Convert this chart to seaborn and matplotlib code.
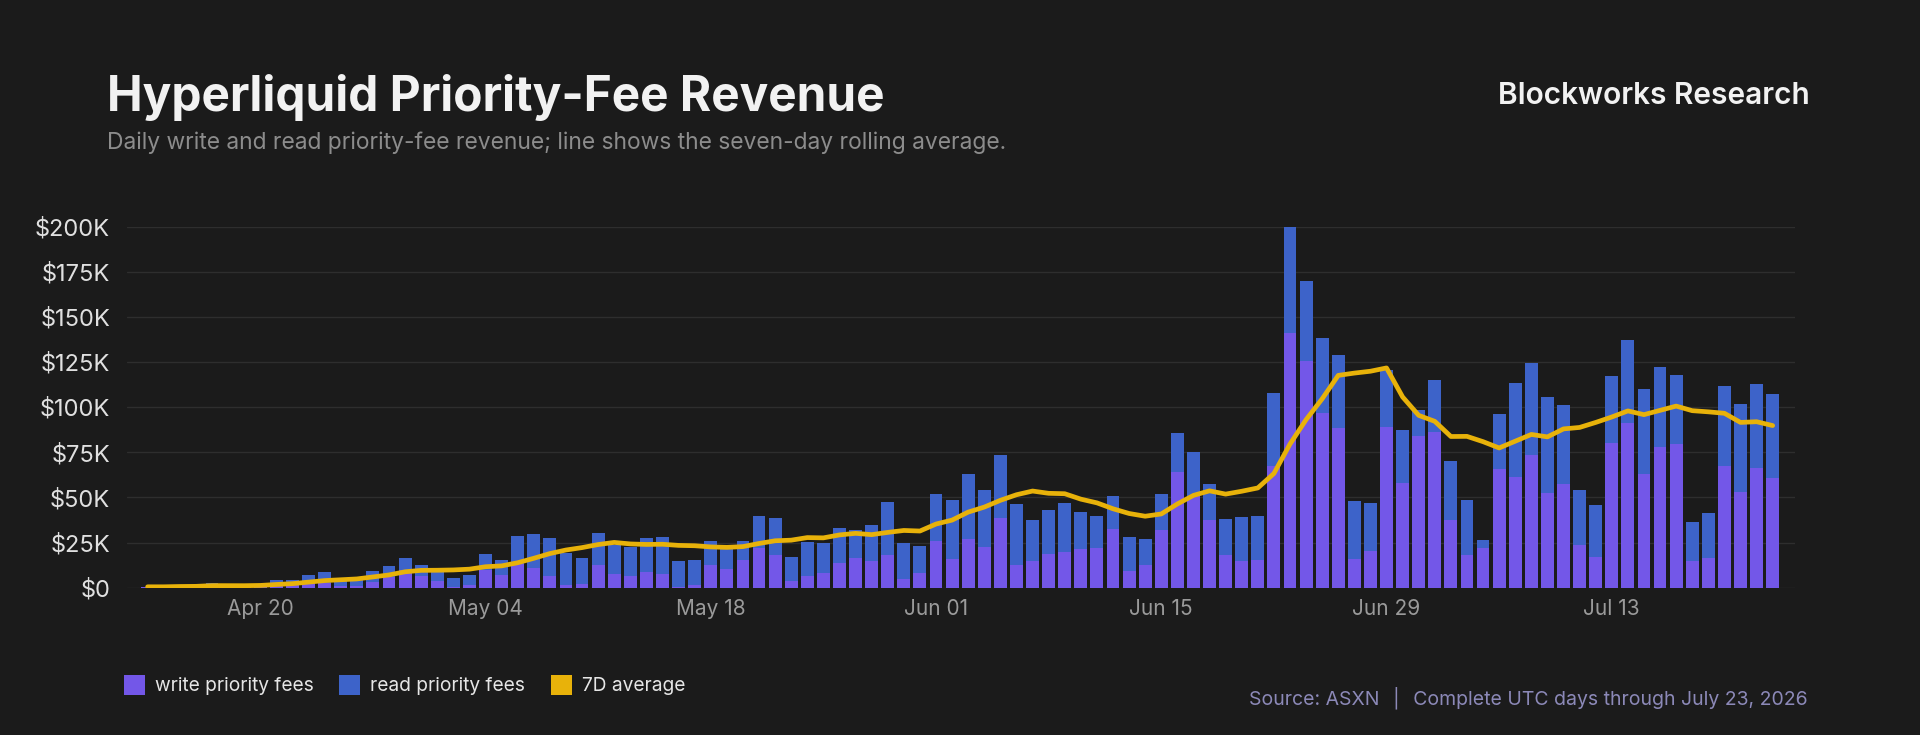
import numpy as np
import pandas as pd
import matplotlib
matplotlib.use("Agg")
import matplotlib.pyplot as plt
import seaborn as sns
from matplotlib.patches import Rectangle

dates = pd.date_range("2026-04-13", "2026-07-23", freq="D")
total_k = [0.5, 0.5, 1, 1, 2.8, 1, 1, 1.5, 4.2, 4.2, 7, 8.7, 4.2, 4.2, 9.2, 12, 16.4, 12.5, 9.2, 5.4,
           7.2, 18.6, 15.3, 28.6, 29.7, 27.5, 19.2, 16.6, 30.4, 23.6, 22.7, 27.7, 28.2, 14.8, 15.3, 25.8,
           21.8, 25.8, 39.7, 38.7, 17.2, 25.3, 24.7, 33.2, 31.9, 34.7, 47.4, 24.7, 23.1, 51.8,
           48.5, 62.9, 54.1, 73.6, 46.3, 37.5, 43, 46.9, 41.9, 39.7, 50.7, 28, 26.9, 51.8,
           85.6, 75.1, 57.4, 38, 39.1, 39.7, 107.7, 199.8, 169.7, 138.2, 128.8, 48, 46.9, 120.5,
           87.3, 98.3, 115, 70.1, 48.5, 26.4, 96.1, 113.5, 124.5, 105.5, 101.1, 54.1, 45.8,
           117.2, 137.1, 110, 122.1, 117.7, 36.3, 41.3, 111.6, 101.7, 112.7, 107.2]
write_k = [0.3, 0.3, 0.5, 0.5, 1.5, 0.5, 0.5, 0.8, 1.3, 1.3, 1.8, 2.4, 1, 1, 3.1, 6, 10, 6.6, 3.9, 0.5,
           1.5, 10, 7.2, 13, 11, 6.5, 1.7, 2.2, 12.5, 7.6, 6.5, 8.7, 7.6, 0.4, 1.7, 12.5,
           10.3, 15.3, 22.1, 18.1, 3.7, 6.5, 8.1, 13.5, 16.6, 14.9, 18.1, 4.6, 8.1, 25.8,
           15.9, 26.9, 22.7, 38.7, 12.5, 14.8, 18.6, 19.9, 21.4, 22, 32.7, 9.2, 12.5, 31.9,
           64, 50.7, 37.5, 18.1, 14.8, 15.3, 67.3, 141, 125.5, 96.7, 88.4, 15.9, 20.3, 88.9,
           57.9, 83.9, 86.2, 37.5, 18.1, 22, 65.7, 61.3, 73.4, 52.6, 57.6, 23.6, 17,
           80.1, 91.1, 62.9, 77.9, 79.5, 14.8, 16.4, 67.3, 53, 66.2, 60.7]
tick_labels = ["Apr 20", "May 04", "May 18", "Jun 01", "Jun 15", "Jun 29", "Jul 13"]
tick_dates = pd.to_datetime(["2026-04-20", "2026-05-04", "2026-05-18", "2026-06-01",
                             "2026-06-15", "2026-06-29", "2026-07-13"])

BG = "#1b1b1b"
C_WRITE = "#7357e8"
C_READ = "#3d63c9"
C_LINE = "#e8b20a"

df = pd.DataFrame({"date": dates, "total": np.array(total_k) * 1000,
                   "write": np.array(write_k) * 1000})
df["idx"] = (df["date"] - dates[0]).dt.days
df["avg"] = df["total"].rolling(7, min_periods=1).mean()

sns.set_theme(style="dark")
plt.rcParams["font.family"] = ["Inter", "DejaVu Sans"]

fig = plt.figure(figsize=(19.2, 7.35), dpi=100, facecolor=BG)
ax = fig.add_axes([0.066, 0.2004, 0.869, 0.4914])
ax.set_facecolor(BG)

sns.barplot(data=df, x="idx", y="total", native_scale=True, color=C_READ, width=0.8,
            saturation=1, ax=ax, linewidth=0)
sns.barplot(data=df, x="idx", y="write", native_scale=True, color=C_WRITE, width=0.8,
            saturation=1, ax=ax, linewidth=0)
sns.lineplot(data=df, x="idx", y="avg", color=C_LINE, linewidth=3.4, ax=ax)

ax.set_xlim(-1.3, 102.4)
ax.set_ylim(0, 200000)
yt = np.arange(0, 200001, 25000)
ax.set_yticks(yt)
ax.set_yticklabels(["$0"] + [f"${int(v/1000)}K" for v in yt[1:]], color="#e0e0e0", fontsize=17)
ax.set_xticks((tick_dates - dates[0]).days)
ax.set_xticklabels(tick_labels, color="#9a9a9a", fontsize=15)
ax.tick_params(axis="both", length=0, pad=8)
ax.tick_params(axis="y", pad=12)
ax.set_xlabel("")
ax.set_ylabel("")
ax.grid(axis="y", color="#2e2e2e", linewidth=1)
ax.grid(axis="x", visible=False)
ax.set_axisbelow(True)
for s in ax.spines.values():
    s.set_visible(False)

fig.text(0.0555, 0.868, "Hyperliquid Priority-Fee Revenue", fontsize=34.4, fontweight="bold",
         color="#f2f2f2", va="center")
fig.text(0.0555, 0.806, "Daily write and read priority-fee revenue; line shows the seven-day rolling average.",
         fontsize=16.45, color="#8c8c8c", va="center")
fig.text(0.9425, 0.869, "Blockworks Research", fontsize=21.5, fontweight="semibold",
         color="#f2f2f2", va="center", ha="right")

items = [("write priority fees", C_WRITE, 0.0645), ("read priority fees", C_READ, 0.1766),
         ("7D average", C_LINE, 0.2870)]
for label, col, x in items:
    fig.patches.append(Rectangle((x, 0.054), 0.0108, 0.028, transform=fig.transFigure,
                                 facecolor=col, edgecolor="none"))
    fig.text(x + 0.0160, 0.067, label, fontsize=13.8, color="#e6e6e6", va="center")

fig.text(0.9415, 0.051, "Source: ASXN  │  Complete UTC days through July 23, 2026",
         fontsize=14, color="#8c89b8", ha="right", va="center")

fig.savefig("out.png", dpi=100, facecolor=BG)
